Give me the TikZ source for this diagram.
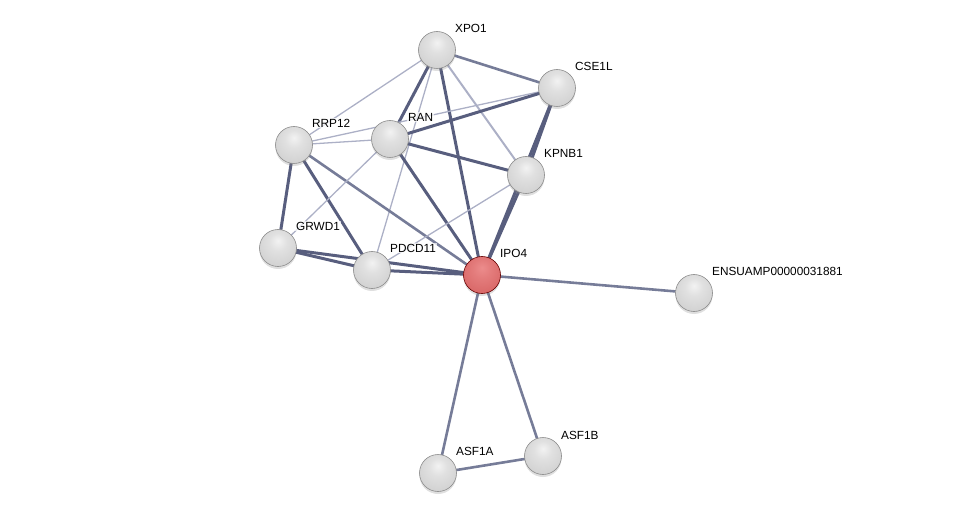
\documentclass[tikz,border=0pt]{standalone}
\usepackage{fontspec}
\setmainfont{Liberation Sans}
\usetikzlibrary{shapes,positioning,backgrounds,shadows}

\definecolor{edgedark}{RGB}{88,94,126}
\definecolor{edgemid}{RGB}{118,124,152}
\definecolor{edgelight}{RGB}{172,176,198}
\definecolor{redtop}{RGB}{236,140,140}
\definecolor{redbody}{RGB}{215,100,100}
\definecolor{redrim}{RGB}{160,60,60}

\pgfdeclareradialshading{greysphere}{\pgfpoint{0bp}{10bp}}{%
  color(0bp)=(white!95!black); color(12bp)=(white!88!black);
  color(34bp)=(white!81!black); color(46bp)=(white!70!black);
  color(54bp)=(white!56!black); color(66bp)=(white!45!black)}
\pgfdeclareradialshading{redsphere}{\pgfpoint{0bp}{10bp}}{%
  color(0bp)=(redtop); color(12bp)=(redtop!60!redbody);
  color(34bp)=(redbody); color(46bp)=(redbody!80!redrim);
  color(54bp)=(redrim); color(66bp)=(redrim!70!black)}

\begin{document}
\begin{tikzpicture}[
    x=1pt, y=-1pt,
    prot/.style={circle, minimum size=37pt, inner sep=0pt, draw=black!45, line width=0.6pt,
                 shading=greysphere,
                 drop shadow={shadow xshift=0pt, shadow yshift=-2.5pt, opacity=0.25}},
    query/.style={prot, shading=redsphere, draw=red!40!black},
    plabel/.style={font=\fontsize{11.8}{14}\selectfont, anchor=west, inner sep=1pt,
                 fill=white, fill opacity=0.7, text opacity=1},
    strong/.style={draw=edgedark, line width=3pt},
    mid/.style={draw=edgemid, line width=2.6pt},
    weak/.style={draw=edgelight, line width=1.3pt}
]
\useasboundingbox (0,0) rectangle (976,518);

% Proteins
\node[prot]  (xpo1)  at (437,50)  {};
\node[prot]  (cse1l) at (557,88)  {};
\node[prot]  (rrp12) at (294,145) {};
\node[prot]  (ran)   at (390,139) {};
\node[prot]  (kpnb1) at (526,175) {};
\node[prot]  (grwd1) at (278,248) {};
\node[prot]  (pdcd11) at (372,270) {};
\node[query] (ipo4)  at (482,275) {};
\node[prot]  (ensu)  at (694,293) {};
\node[prot]  (asf1a) at (438,473) {};
\node[prot]  (asf1b) at (543,456) {};

% Labels
\node[plabel] at (454,28)  {XPO1};
\node[plabel] at (574,66)  {CSE1L};
\node[plabel] at (311,123) {RRP12};
\node[plabel] at (407,117) {RAN};
\node[plabel] at (543,153) {KPNB1};
\node[plabel] at (295,226) {GRWD1};
\node[plabel] at (389,248) {PDCD11};
\node[plabel] at (499,253) {IPO4};
\node[plabel] at (711,271) {ENSUAMP00000031881};
\node[plabel] at (455,451) {ASF1A};
\node[plabel] at (560,435) {ASF1B};

% Interactions
\begin{scope}[on background layer]
\draw[weak]   (xpo1.center) -- (rrp12.center);
\draw[weak]   (xpo1.center) -- (pdcd11.center);
\draw[weak, line width=2pt] (xpo1.center) -- (kpnb1.center);
\draw[mid]    (xpo1.center) -- (cse1l.center);
\draw[strong] (xpo1.center) -- (ran.center);
\draw[strong] (xpo1.center) -- (ipo4.center);
\draw[weak]   (cse1l.center) -- (rrp12.center);
\draw[strong] (cse1l.center) -- (ran.center);
\draw[strong] (cse1l.center) -- (kpnb1.center);
\draw[strong] (cse1l.center) -- (ipo4.center);
\draw[weak]   (rrp12.center) -- (ran.center);
\draw[strong] (rrp12.center) -- (grwd1.center);
\draw[strong] (rrp12.center) -- (pdcd11.center);
\draw[mid]    (rrp12.center) -- (ipo4.center);
\draw[weak]   (ran.center) -- (grwd1.center);
\draw[strong] (ran.center) -- (kpnb1.center);
\draw[strong] (ran.center) -- (ipo4.center);
\draw[weak]   (kpnb1.center) -- (pdcd11.center);
\draw[strong] (kpnb1.center) -- (ipo4.center);
\draw[strong] (grwd1.center) -- (pdcd11.center);
\draw[strong] (grwd1.center) -- (ipo4.center);
\draw[strong] (pdcd11.center) -- (ipo4.center);
\draw[mid]    (ipo4.center) -- (ensu.center);
\draw[mid]    (ipo4.center) -- (asf1a.center);
\draw[mid]    (ipo4.center) -- (asf1b.center);
\draw[mid]    (asf1a.center) -- (asf1b.center);
\end{scope}

\end{tikzpicture}
\end{document}
